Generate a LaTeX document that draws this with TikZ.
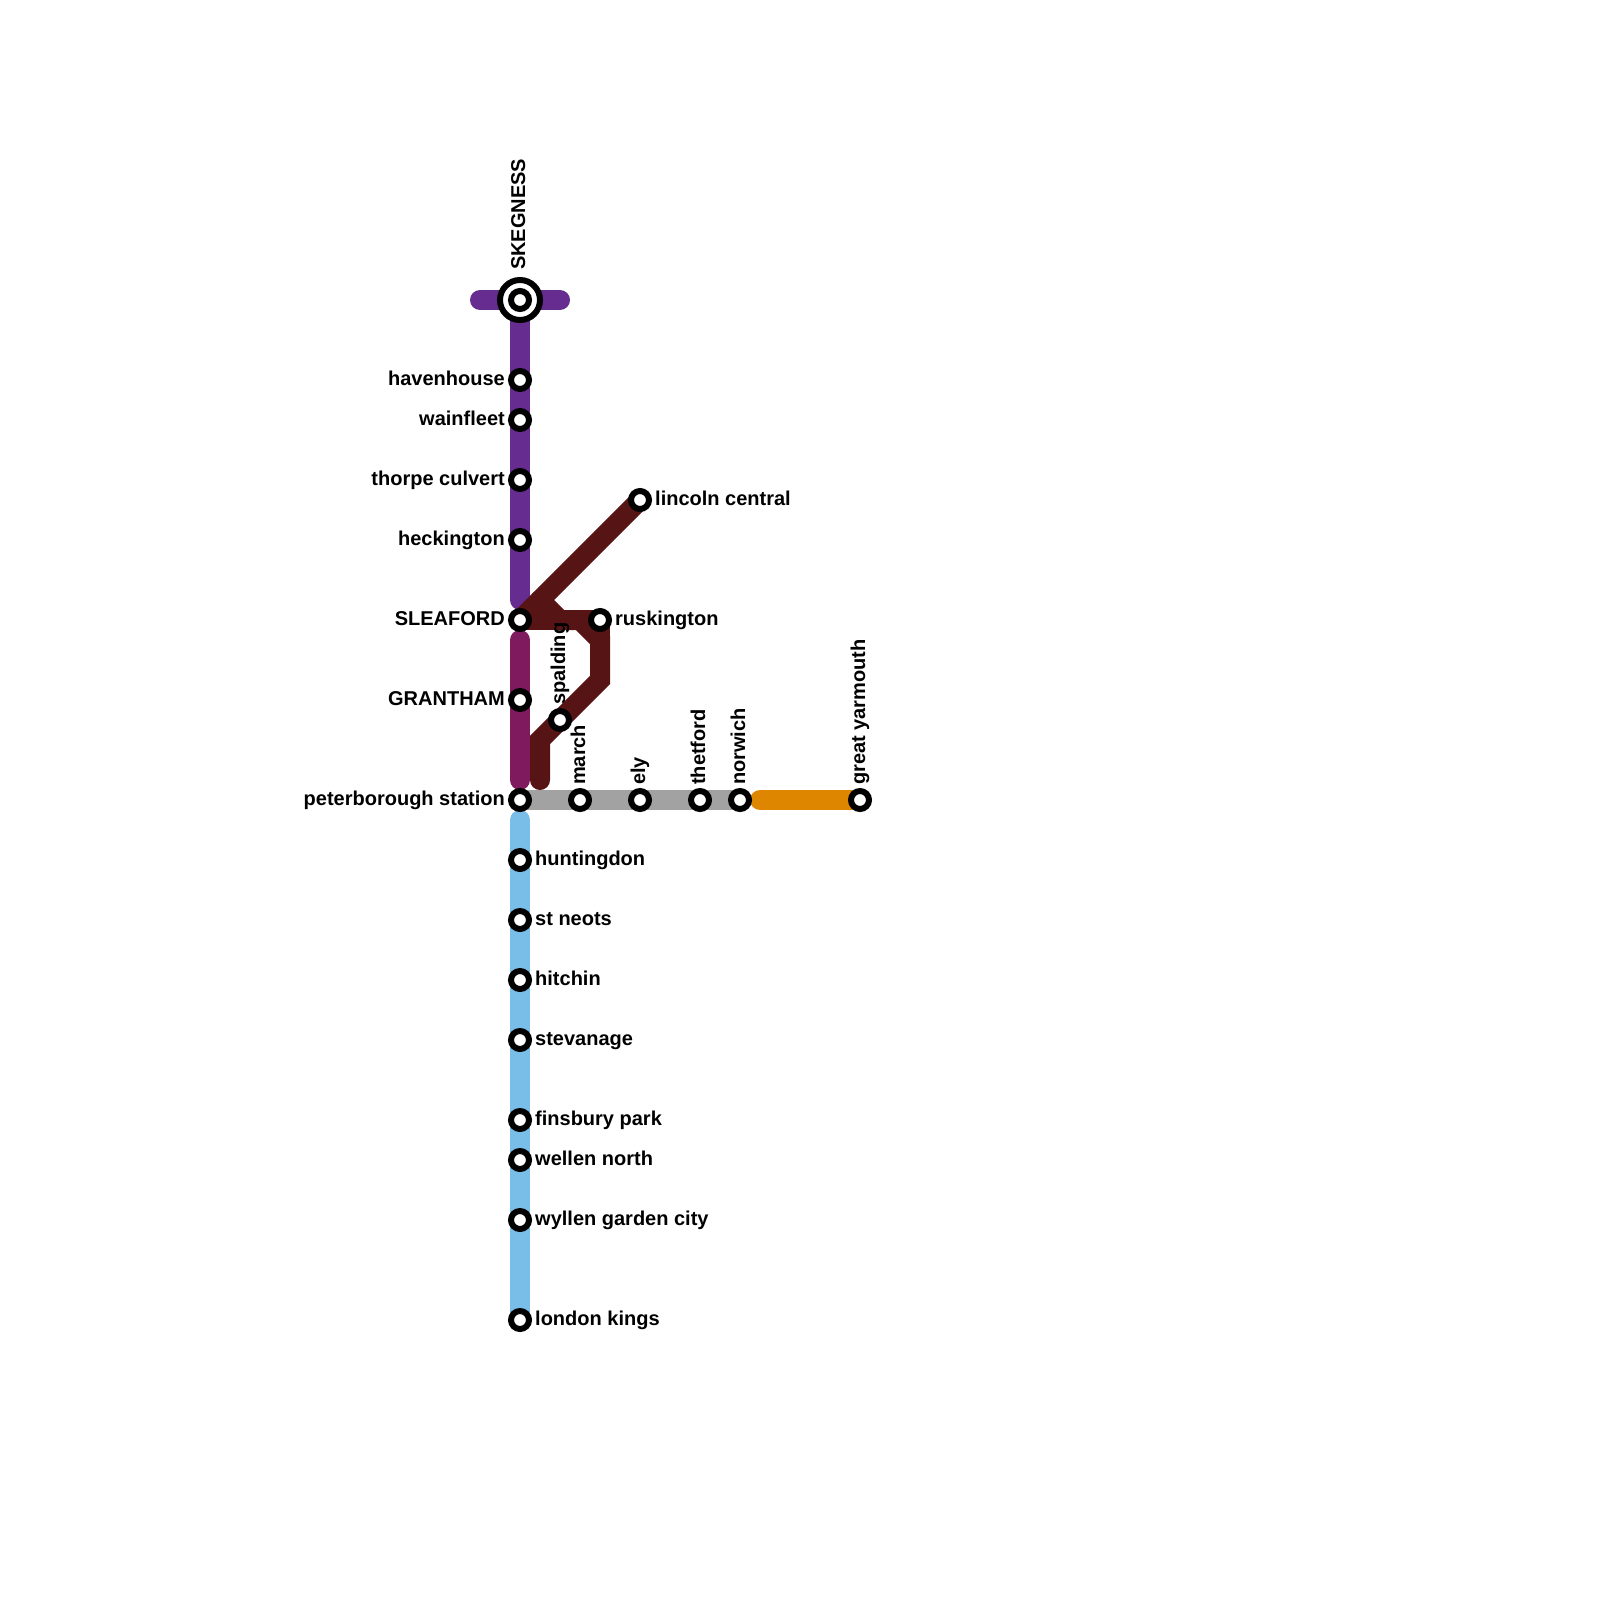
\documentclass[tikz,border=0pt]{standalone}
\usepackage{fontspec}
\setmainfont{Liberation Sans}
\usetikzlibrary{backgrounds}
\definecolor{cpurple}{HTML}{662C90}
\definecolor{cplum}{HTML}{7F1A5F}
\definecolor{cdark}{HTML}{561414}
\definecolor{cgrey}{HTML}{A2A2A2}
\definecolor{cblue}{HTML}{79BDE9}
\definecolor{corange}{HTML}{DF8600}
\tikzset{
  x=1pt,y=-1pt,
  stn/.style={circle,draw=black,fill=white,line width=6pt,inner sep=0pt,outer sep=0pt,minimum size=18pt},
  hub/.style={circle,draw=black,fill=white,line width=6pt,inner sep=0pt,outer sep=0pt,minimum size=40pt},
  txt/.style={font=\bfseries\fontsize{20}{22}\selectfont,inner sep=0pt,text=black},
  lbl/.style={txt,anchor=base east},
  lbr/.style={txt,anchor=base west},
  lbu/.style={txt,anchor=base west,rotate=90},
  route/.style={line width=20pt,line cap=round,line join=miter}
}
\begin{document}
\begin{tikzpicture}
\useasboundingbox (0,0) rectangle (1600,1600);
\node[hub] (skeg) at (520,300) {};
\node[stn] (skegin) at (520,300) {};
\foreach \n/\px/\py in {have/520/380,wain/520/420,thor/520/480,heck/520/540,slea/520/620,gran/520/700,pete/520/800,
  hunt/520/860,stne/520/920,hitc/520/980,stev/520/1040,fins/520/1120,well/520/1160,wyll/520/1220,lond/520/1320,
  marc/580/800,ely/640/800,thet/700/800,norw/740/800,yarm/860/800,spal/560/720,rusk/600/620,linc/640/500}
  {\node[stn] (\n) at (\px,\py) {};}
\coordinate (pl) at (480,300);
\coordinate (pr) at (560,300);
\coordinate (pend) at (520,600);
\coordinate (gtop) at (520,640);
\coordinate (gbot) at (520,780);
\coordinate (btop) at (520,820);
\coordinate (ostart) at (760,800);
\coordinate (d1) at (540,600);
\coordinate (d2) at (560,620);
\coordinate (d3) at (580,620);
\coordinate (d4) at (600,640);
\coordinate (d5) at (600,680);
\coordinate (d6) at (540,740);
\coordinate (d7) at (540,780);
\begin{scope}[on background layer]
\draw[route,cpurple] (pl) -- (pr);
\draw[route,cpurple] (skeg.center) -- (pend);
\draw[route,cplum] (gtop) -- (gran.center) -- (gbot);
\draw[route,cblue] (btop) -- (lond.center);
\draw[line width=20pt,cgrey] (pete.center) -- (norw.center);
\draw[route,corange] (ostart) -- (yarm.center);
\draw[route,cdark] (linc.center) -- (slea.center);
\draw[route,cdark] (slea.center) -- (rusk.center);
\draw[route,cdark] (rusk.center) -- (d4);
\draw[route,cdark] (d1) -- (d2) -- (d3) -- (d4) -- (d5) -- (spal.center) -- (d6) -- (d7);
\end{scope}
\node[lbu] (tskeg) at (525,270) {SKEGNESS};
\node[lbl] (thave) at (505,385) {havenhouse};
\node[lbl] (twain) at (505,425) {wainfleet};
\node[lbl] (tthor) at (505,485) {thorpe culvert};
\node[lbl] (theck) at (505,545) {heckington};
\node[lbl] (tslea) at (505,625) {SLEAFORD};
\node[lbl] (tgran) at (505,705) {GRANTHAM};
\node[lbl] (tpete) at (505,805) {peterborough station};
\node[lbr] (thunt) at (535,865) {huntingdon};
\node[lbr] (tstne) at (535,925) {st neots};
\node[lbr] (thitc) at (535,985) {hitchin};
\node[lbr] (tstev) at (535,1045) {stevanage};
\node[lbr] (tfins) at (535,1125) {finsbury park};
\node[lbr] (twell) at (535,1165) {wellen north};
\node[lbr] (twyll) at (535,1225) {wyllen garden city};
\node[lbr] (tlond) at (535,1325) {london kings};
\node[lbr] (tlinc) at (655,505) {lincoln central};
\node[lbr] (trusk) at (615,625) {ruskington};
\node[lbu] (tspal) at (565,705) {spalding};
\node[lbu] (tmarc) at (585,785) {march};
\node[lbu] (tely) at (645,785) {ely};
\node[lbu] (tthet) at (705,785) {thetford};
\node[lbu] (tnorw) at (745,785) {norwich};
\node[lbu] (tyarm) at (865,785) {great yarmouth};
\end{tikzpicture}
\end{document}
